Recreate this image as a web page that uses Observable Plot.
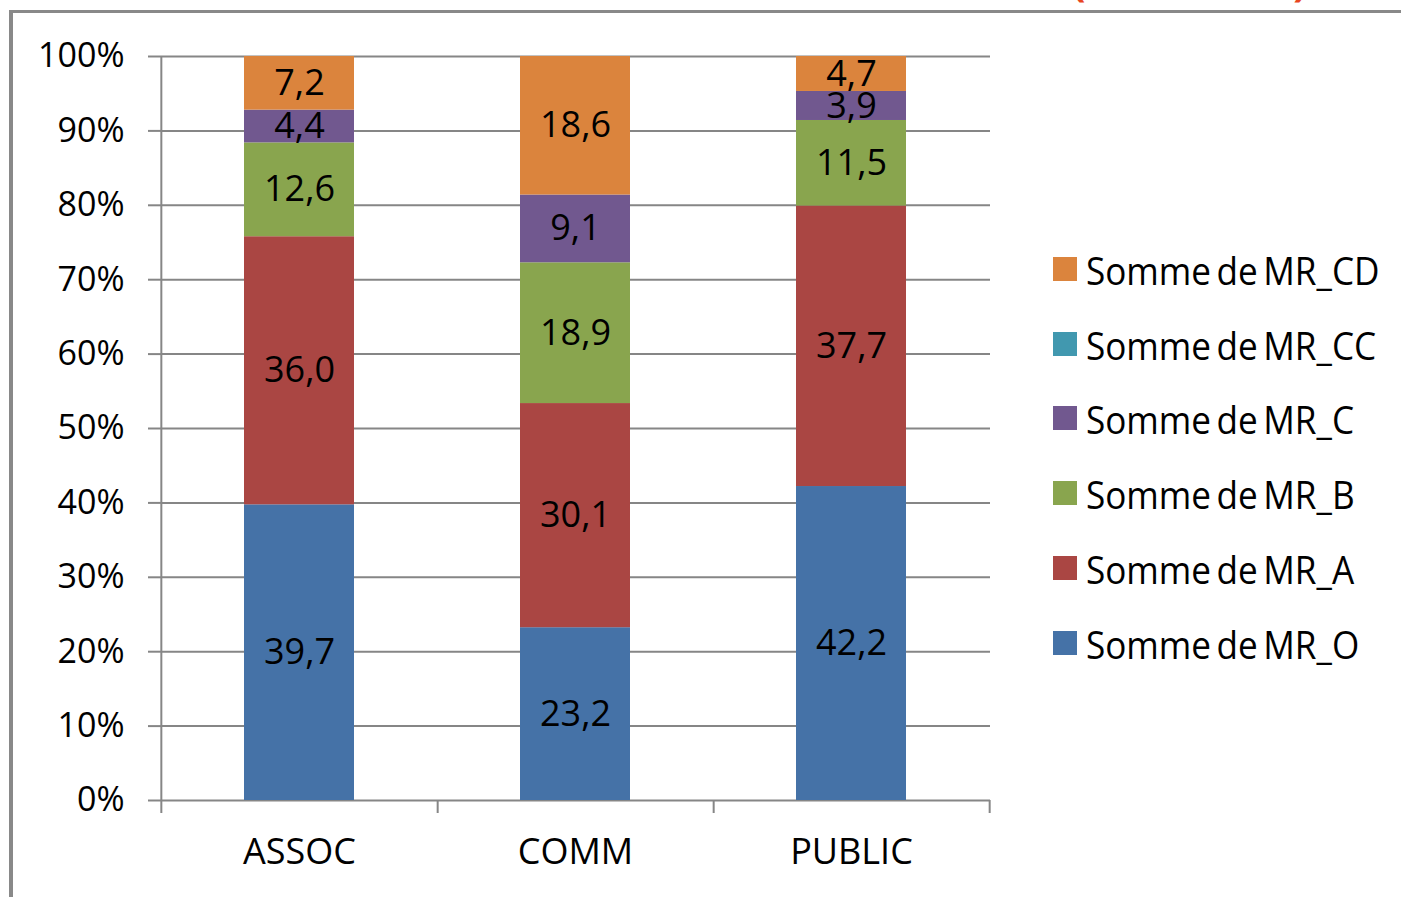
<!DOCTYPE html>
<html>
<head>
<meta charset="utf-8">
<script src="https://cdn.jsdelivr.net/npm/d3@7"></script>
<script src="https://cdn.jsdelivr.net/npm/@observablehq/plot@0.6"></script>
<style>
  html, body { margin: 0; padding: 0; background: #fff; }
  body { width: 1401px; height: 897px; overflow: hidden; position: relative; }
  #frame { position: absolute; left: 9px; top: 10px; right: -10px; bottom: -10px;
           border-left: 4px solid #898989; border-top: 3px solid #898989; }
  #title { position: absolute; left: 1072px; top: -47px; font-family: 'Open Sans', sans-serif;
           font-size: 40px; font-weight: bold; color: #E8461E; white-space: nowrap; letter-spacing: -1px; }
  #chart { position: absolute; left: 0; top: 0; }
  #legend { position: absolute; left: 1053px; top: 0; font-family: 'Open Sans', sans-serif; }
  .item { position: absolute; left: 0; height: 30px; display: flex; align-items: center; white-space: nowrap;
          font-size: 39px; color: #000; }
  .sw { width: 24px; height: 24px; margin-right: 9px; flex: none; }
  .lab { display: inline-block; transform: scaleX(0.9); transform-origin: left center; word-spacing: -4px; }
</style>
</head>
<body>
<div id="title">(en nombre)</div>
<div id="frame"></div>
<div id="chart"></div>
<div id="legend"></div>
<script>
const categories = ["ASSOC", "COMM", "PUBLIC"];
const seriesNames = ["Somme de MR_O", "Somme de MR_A", "Somme de MR_B", "Somme de MR_C", "Somme de MR_CC", "Somme de MR_CD"];
const seriesColors = ["#4572A7", "#AA4643", "#89A54E", "#71588F", "#4198AF", "#DB843D"];
const mrO  = [39.7, 23.2, 42.2];
const mrA  = [36.0, 30.1, 37.7];
const mrB  = [12.6, 18.9, 11.5];
const mrC  = [4.4, 9.1, 3.9];
const mrCC = [0, 0, 0];
const mrCD = [7.2, 18.6, 4.7];
const yTicks = [0, 0.1, 0.2, 0.3, 0.4, 0.5, 0.6, 0.7, 0.8, 0.9, 1];
const yTickLabels = ["0%", "10%", "20%", "30%", "40%", "50%", "60%", "70%", "80%", "90%", "100%"];

const seriesValues = [mrO, mrA, mrB, mrC, mrCC, mrCD];
const data = seriesNames.flatMap((s, j) =>
  categories.map((c, i) => ({category: c, series: s, value: seriesValues[j][i]})));

const W = 1401, H = 897, mL = 161, mR = 411, mT = 56, mB = 97;
const padIn = 0.6, padOut = 0.3;
const step = (W - mL - mR) / (categories.length - padIn + 2 * padOut);
const gray = "#868686";
const stackOpts = {x: "category", y: "value", z: "series", order: seriesNames, offset: "normalize"};
const fmt = v => d3.format(".1f")(v).replace(".", ",");

const chart = Plot.plot({
  width: W, height: H,
  marginLeft: mL, marginRight: mR, marginTop: mT, marginBottom: mB,
  style: {fontFamily: "'Open Sans', sans-serif", background: "transparent", color: "#000"},
  x: {domain: categories, paddingInner: padIn, paddingOuter: padOut, label: null},
  y: {domain: [0, 1], label: null},
  color: {domain: seriesNames, range: seriesColors},
  marks: [
    Plot.gridY(yTicks, {stroke: gray, strokeOpacity: 1, strokeWidth: 2}),
    Plot.axisY(yTicks, {tickSize: 13, tickPadding: 24, stroke: gray, strokeWidth: 2, fontSize: 34, label: null,
      tickFormat: d => yTickLabels[yTicks.indexOf(d)]}),
    Plot.ruleX([categories[0]], {x: d => d, dx: -step / 2, y1: 1, y2: 0, insetBottom: -13, stroke: gray, strokeWidth: 2}),
    Plot.ruleX(categories, {x: d => d, dx: step / 2, y1: 0, y2: 0, insetBottom: -13, stroke: gray, strokeWidth: 2}),
    Plot.axisX({tickSize: 0, tickPadding: 38, fontSize: 36, label: null}),
    Plot.barY(data, Plot.stackY({...stackOpts, fill: "series"})),
    Plot.text(data, Plot.stackY({...stackOpts, text: d => d.value > 0 ? fmt(d.value) : null, fill: "#000", fontSize: 36}))
  ]
});
document.getElementById("chart").appendChild(chart);

const legend = document.getElementById("legend");
const legendTop = [269, 344, 418, 493, 568, 643];
seriesNames.slice().reverse().forEach((s, k) => {
  const idx = seriesNames.indexOf(s);
  const item = document.createElement("div");
  item.className = "item";
  item.style.top = (legendTop[k] - 15) + "px";
  const sw = document.createElement("div");
  sw.className = "sw";
  sw.style.background = seriesColors[idx];
  const lab = document.createElement("span");
  lab.className = "lab";
  lab.textContent = s;
  item.appendChild(sw);
  item.appendChild(lab);
  legend.appendChild(item);
});
</script>
</body>
</html>
